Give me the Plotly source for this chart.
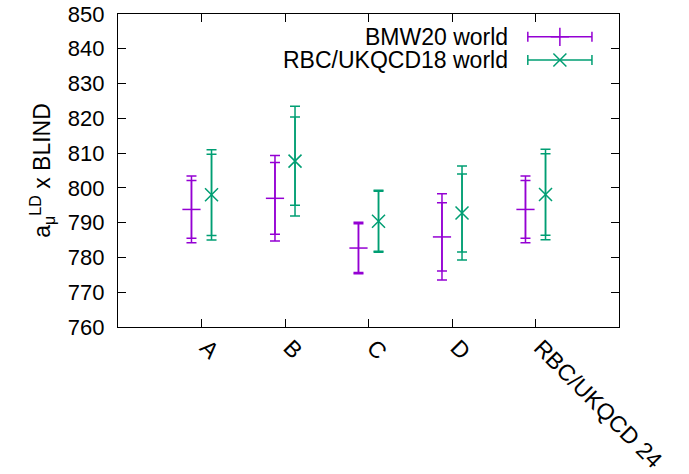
import plotly.graph_objects as go

# Lattice results for the long-distance window (blinded), two data "worlds"
categories = ["A", "B", "C", "D", "RBC/UKQCD 24"]
cat_pos = [1, 2, 3, 4, 5]

bmw_val = [793.8, 797.0, 782.7, 785.9, 793.8]
bmw_stat = [8.3, 10.3, 7.0, 9.8, 8.3]
bmw_tot = [9.6, 12.3, 7.4, 12.4, 9.6]

rbc_val = [798.0, 807.7, 790.4, 792.8, 798.1]
rbc_stat = [11.7, 12.7, 8.6, 11.2, 11.7]
rbc_tot = [13.0, 15.8, 8.9, 13.5, 13.0]

series_names = ["BMW20 world", "RBC/UKQCD18 world"]
PURPLE = "#9400D3"
GREEN = "#009E73"
FONT = "Liberation Sans"
shift = 0.12

fig = go.Figure()


def add_series(vals, stat, tot, dx, color, symbol):
    xs = [p + dx for p in cat_pos]
    # total uncertainty (outer caps)
    fig.add_trace(go.Scatter(
        x=xs, y=vals, mode="markers", showlegend=False,
        marker=dict(size=1, color="rgba(0,0,0,0)"),
        error_y=dict(type="data", array=tot, visible=True, color=color,
                     thickness=1.5, width=5),
    ))
    # statistical uncertainty (inner caps) with the central value
    fig.add_trace(go.Scatter(
        x=xs, y=vals, mode="markers", showlegend=False,
        marker=dict(symbol=symbol, size=13, color=color,
                    line=dict(color=color, width=1.5)),
        error_y=dict(type="data", array=stat, visible=True, color=color,
                     thickness=1.5, width=5),
    ))


add_series(bmw_val, bmw_stat, bmw_tot, -shift, PURPLE, "line-ew-open")
add_series(rbc_val, rbc_stat, rbc_tot, shift, GREEN, "x-thin-open")

# key in gnuplot style: right-aligned text with the sample on the right
key_rows_y = [0.927, 0.853]
key_colors = [PURPLE, GREEN]
key_symbols = ["cross-thin-open", "x-thin-open"]
for name, ky, col, sym in zip(series_names, key_rows_y, key_colors, key_symbols):
    fig.add_trace(go.Scatter(
        x=[0.882], y=[ky], xaxis="x2", yaxis="y2", mode="markers",
        showlegend=False,
        marker=dict(symbol=sym, size=13, color=col,
                    line=dict(color=col, width=1.5)),
        error_x=dict(type="constant", value=0.064, visible=True, color=col,
                     thickness=1.5, width=5),
    ))
    fig.add_annotation(x=0.782, y=ky, xref="paper", yref="paper",
                       text=name, showarrow=False, xanchor="right",
                       yanchor="middle", font=dict(family=FONT, size=23,
                                                   color="black"))

fig.update_layout(
    width=689, height=474,
    margin=dict(l=118, r=70, t=14, b=147),
    plot_bgcolor="white", paper_bgcolor="white",
    showlegend=False,
    font=dict(family=FONT, size=22, color="black"),
    xaxis=dict(range=[0, 6], tickvals=cat_pos, ticktext=categories,
               tickangle=45, ticks="inside", ticklen=8, tickcolor="black",
               showline=True, linecolor="black", linewidth=1.2,
               mirror="ticks", showgrid=False, zeroline=False,
               automargin=False, ticklabelshift=5, ticklabelstandoff=-3,
               tickfont=dict(family=FONT, size=23)),
    yaxis=dict(range=[760, 850], dtick=10, ticks="inside", ticklen=8,
               tickcolor="black", showline=True, linecolor="black",
               linewidth=1.2, mirror="ticks", showgrid=False, zeroline=False,
               ticklabelstandoff=8, automargin=False,
               tickfont=dict(family=FONT, size=22),
               title=dict(text="a<sub>μ</sub><sup>LD</sup> x BLIND",
                          font=dict(family=FONT, size=23), standoff=10)),
    xaxis2=dict(range=[0, 1], overlaying="x", visible=False),
    yaxis2=dict(range=[0, 1], overlaying="y", visible=False),
)

fig.write_html("out.html")
